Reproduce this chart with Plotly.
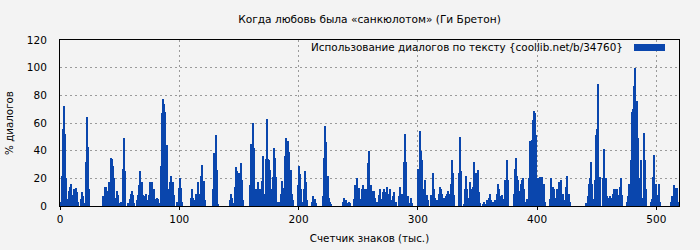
import plotly.graph_objects as go

chart_title = "Когда любовь была «санкюлотом» (Ги Бретон)"
x_title = "Счетчик знаков (тыс.)"
y_title = "% диалогов"
series_name = "Использование диалогов по тексту {coollib.net/b/34760}"
x_ticks = [0, 100, 200, 300, 400, 500]
y_ticks = [0, 20, 40, 60, 80, 100, 120]

# share of dialogue (%) per 1000 characters
dialog_pct = [
    3, 22, 56, 72, 52, 20, 5, 11, 14, 16, 8, 12, 12, 13, 10, 3,
    0,
    5, 10, 7, 2, 32, 64, 43, 12,
    0, 0, 0, 0, 0, 0, 0, 0, 0, 0, 0,
    7, 14, 14, 11, 4, 17, 35, 34, 29, 20, 6, 11, 8, 2,
    0,
    3, 27, 49, 25,
    0, 0,
    2, 5, 9, 11, 8, 2,
    0,
    4, 8, 15, 25, 17, 8, 3, 7, 9, 4, 8, 17, 13, 17, 12,
    3, 5, 6, 5, 2,
    29, 67, 77, 74, 68, 44, 12,
    5, 17, 22, 17, 8,
    0, 0,
    3, 13, 20, 13, 3,
    0, 0, 0, 0, 0, 0,
    6, 12, 6, 4, 2, 9, 17, 9, 8, 22, 30, 18, 4,
    0, 0, 0, 0, 0, 0,
    12, 38, 51, 26, 1,
    0, 0, 0, 0, 0, 0, 0, 0, 0,
    4, 9, 6, 2, 14, 28, 25, 14, 24, 31, 19, 4,
    0, 0, 0, 0, 0,
    15, 45, 60, 42, 12, 3, 12, 17, 12, 3, 18, 36, 9, 34, 63, 34, 33, 26, 12,
    21, 42, 35, 21, 3, 2, 3, 9, 18, 13, 36, 49, 30, 47, 39, 26, 9, 4,
    0, 0, 0,
    15, 29, 23, 12, 3, 12, 25, 17, 4,
    0, 0, 0,
    3, 7, 5, 2,
    0, 0, 0, 0, 0,
    7, 35, 58, 46, 22, 6, 3, 1,
    0, 0, 0, 0, 0, 0, 0, 0, 0,
    3, 6, 4, 2, 1, 3, 2,
    0, 0,
    5, 15, 14, 20, 13, 5, 4, 12, 15, 12, 3, 12, 31, 40, 15, 11, 10, 11, 6, 3,
    0,
    8, 12, 5, 10, 12, 10, 5, 14, 9, 12, 4, 3, 7, 10, 3,
    0, 0,
    7, 14, 9, 7, 32, 52, 32, 7,
    0,
    2, 6, 2,
    0, 0, 0, 0,
    27, 54, 40, 33, 12, 12, 19, 8, 4,
    0, 0,
    8, 24, 12, 6,
    0,
    4, 9, 14, 12, 9, 6, 6, 7, 9, 11, 9, 16, 33, 24, 8,
    0, 0, 0,
    24, 50, 25,
    0,
    1, 12, 22, 12, 6, 17, 12, 4, 14, 32, 24, 17, 26, 10, 2,
    0,
    1, 3, 1, 1, 4, 6, 9, 4, 2, 3, 4, 4, 9, 16, 12, 7, 8, 3, 5, 19, 33, 19,
    0, 0, 0, 0,
    9, 27, 35, 22, 19, 11, 16, 19, 20, 12,
    3, 5, 5, 20, 47, 48, 62, 69, 67, 51, 20, 9,
    21, 8, 21, 16, 3,
    0, 0, 0,
    5, 20, 12, 14, 12, 6, 12, 9, 17, 14, 19, 9, 4, 2, 14, 22, 9, 3,
    0, 0, 0, 0, 0, 0, 0, 0, 0, 0, 0, 0, 0,
    2, 7, 16, 20, 32, 16, 5, 19, 51, 56, 88, 21,
    0, 0,
    20, 41, 20, 7,
    4, 6, 7, 6, 9, 12, 10, 12, 12, 8, 14, 20, 8,
    0, 0, 0,
    3, 7, 16, 33, 68, 70, 87, 100, 76, 49, 20, 12, 33, 6, 53, 33, 12,
    0, 0, 0,
    3, 5, 21, 37, 16, 4, 8, 16, 3,
    0, 0, 0, 0, 0, 0, 0, 0,
    3, 7, 15, 13, 9, 13, 3,
]
char_counter = list(range(len(dialog_pct)))

BAR = "#0a46ad"
BG = "#f3f3f3"
FONT = "DejaVu Sans"

fig = go.Figure()
fig.add_trace(go.Bar(
    x=char_counter, y=dialog_pct, name=series_name,
    marker=dict(color=BAR, line=dict(width=0)),
    width=1, offset=0, showlegend=False,
))

axis_common = dict(
    showline=True, linecolor="black", linewidth=1, mirror=True,
    showgrid=True, gridcolor="#9a9a9a", gridwidth=1, griddash="2px,3px",
    zeroline=False, automargin=False,
    tickfont=dict(family=FONT, size=10.5, color="black"),
)

fig.update_layout(
    width=700, height=250,
    margin=dict(l=60, r=21, t=40, b=44),
    paper_bgcolor=BG, plot_bgcolor=BG,
    font=dict(family=FONT, size=11, color="black"),
    bargap=0,
    title=dict(text=chart_title, x=0.5, xref="paper", xanchor="center",
               y=1 - 19 / 250, yanchor="middle",
               font=dict(family=FONT, size=10.6, color="black")),
    xaxis=dict(range=[0, 519], tickvals=x_ticks, ticks="outside", ticklen=3,
               tickcolor="black",
               title=dict(text=x_title, standoff=11,
                          font=dict(family=FONT, size=10.3)),
               **axis_common),
    yaxis=dict(range=[0, 120], tickvals=y_ticks, ticks="",
               ticklabelstandoff=10,
               title=dict(text=y_title, standoff=11,
                          font=dict(family=FONT, size=10.3)),
               **axis_common),
    showlegend=False,
)

# legend drawn to match the reference (text left, swatch right)
fig.add_annotation(
    text=series_name, xref="paper", yref="paper",
    x=(625 - 60) / 619, y=(206 - 47) / 166, xanchor="right", yanchor="middle",
    showarrow=False, font=dict(family=FONT, size=10.4, color="black"),
)
fig.add_shape(
    type="rect", xref="paper", yref="paper",
    x0=(634 - 60) / 619, x1=(665 - 60) / 619,
    y0=(206 - 51) / 166, y1=(206 - 44) / 166,
    fillcolor=BAR, line=dict(width=0),
)

fig.write_html("out.html")
